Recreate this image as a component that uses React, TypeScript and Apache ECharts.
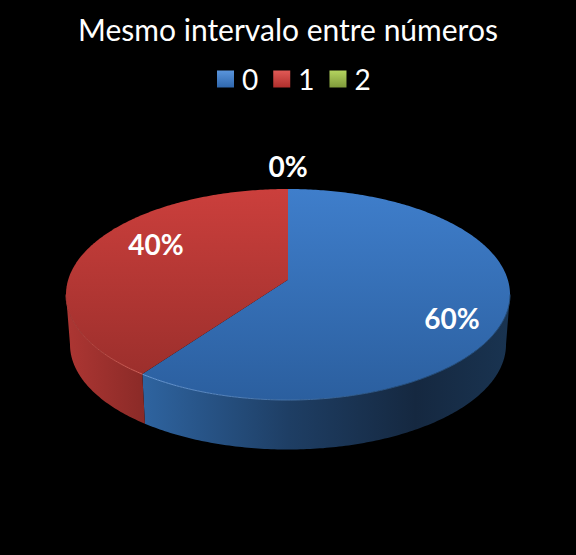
import React, { useEffect, useRef } from "react";
import * as echarts from "echarts";

const titleText = "Mesmo intervalo entre números";
const categories = ["0", "1", "2"];
const shares = [60, 40, 0];

const FONT = "Lato, 'Noto Sans', sans-serif";
const CX = 288, CY = 294.5, RX = 222, RY = 105.5;
const BCY = 344.5, BRX = 218, BRY = 105;
const K = -0.14; // perspective of the tilted disc
const total = shares.reduce((a, b) => a + b, 0);

const topStops = [
  [["#3f7ecb", "#2b5f9f"], 189, 400],
  [["#cb3f3c", "#9c2f2c"], 189, 375],
  [["#9bbb59", "#7f9a48"], 189, 300],
] as const;
const sideStops: [number, string][][] = [
  [[0, "#2e639f"], [0.4, "#1e3e64"], [0.75, "#152840"], [1, "#193350"]],
  [[0, "#ad3633"], [1, "#8a2a27"]],
  [[0, "#7f9a48"], [1, "#5c7034"]],
];
const sideRange = [[145, 506], [66, 146], [66, 146]];
const rimColors = ["#6a9bd8", "#d4645c", "#b5d070"];
const legendColors = [
  ["#5a95dc", "#2f67ad"],
  ["#e05a56", "#b02f2c"],
  ["#b4d45f", "#7f9a3a"],
];
const labelFactors = [[0.777, 0.73], [0.625, 1.54], [0, 1.218]];

function warp(deg: number) {
  const t = (deg * Math.PI) / 180;
  const u = Math.sin(t), v = -Math.cos(t);
  const d = 1 + K * v;
  return [(u * Math.sqrt(1 - K * K)) / d, (v + K) / d];
}
const topPt = (deg: number) => {
  const [x, y] = warp(deg);
  return [CX + RX * x, CY + RY * y];
};
const botPt = (deg: number) => {
  const [x, y] = warp(deg);
  return [CX + BRX * x, BCY + BRY * y];
};
const arc = (fn: (d: number) => number[], a: number, b: number) => {
  const n = Math.max(2, Math.ceil(Math.abs(b - a) / 0.75));
  const pts: number[][] = [];
  for (let i = 0; i <= n; i++) pts.push(fn(a + ((b - a) * i) / n));
  return pts;
};
const SIDE_MIN = (Math.acos(K) * 180) / Math.PI;
const SIDE_MAX = 360 - SIDE_MIN;

function makeRender(index: number) {
  return (_p: any, api: any) => {
    const value = api.value(0);
    const before = shares.slice(0, index).reduce((a, b) => a + b, 0);
    const a0 = (before / total) * 360;
    const a1 = a0 + (value / total) * 360;
    const mid = (a0 + a1) / 2;
    const rad = (mid * Math.PI) / 180;
    const [fx, fy] = labelFactors[index];
    const children: any[] = [];
    const s0 = Math.max(a0, SIDE_MIN);
    const s1 = Math.min(a1, SIDE_MAX);
    if (value > 0 && s1 > s0) {
      const [rx0, rx1] = sideRange[index];
      children.push({
        type: "polygon",
        shape: { points: [...arc(topPt, s0, s1), ...arc(botPt, s1, s0)] },
        style: {
          fill: new echarts.graphic.LinearGradient(
            rx0, 0, rx1, 0,
            sideStops[index].map(([offset, color]) => ({ offset, color })),
            true
          ),
        },
      });
    }
    if (value > 0) {
      const [cols, y0, y1] = topStops[index];
      children.push({
        type: "polygon",
        shape: { points: [[CX, CY + RY * K], ...arc(topPt, a0, a1)] },
        style: {
          fill: new echarts.graphic.LinearGradient(
            0, y0, 0, y1,
            [{ offset: 0, color: cols[0] }, { offset: 1, color: cols[1] }],
            true
          ),
        },
      });
      if (s1 > s0) {
        children.push({
          type: "polyline",
          shape: { points: arc(topPt, s0, s1) },
          style: {
            fill: "none",
            stroke: new echarts.graphic.LinearGradient(
              index === 0 ? 143 : 66, 0, index === 0 ? 400 : 143, 0,
              index === 0
                ? [{ offset: 0, color: rimColors[0] }, { offset: 1, color: "#26507f" }]
                : [{ offset: 0, color: "#a83a36" }, { offset: 1, color: rimColors[index] }],
              true
            ),
            lineWidth: 1,
          },
        });
      }
    }
    children.push({
      type: "text",
      z2: 10,
      style: {
        x: CX + RX * Math.sin(rad) * fx,
        y: CY - RY * Math.cos(rad) * fy,
        text: `${value}%`,
        fill: "#ffffff",
        font: `bold 28px ${FONT}`,
        align: "center",
        verticalAlign: "middle",
      },
    });
    return { type: "group", children };
  };
}

export default function App() {
  const ref = useRef<HTMLDivElement>(null);
  useEffect(() => {
    document.body.style.margin = "0";
    document.body.style.background = "#000";
    const chart = echarts.init(ref.current!, undefined, { renderer: "svg" });
    chart.setOption({
      animation: false,
      backgroundColor: "#000000",
      title: {
        text: titleText,
        left: "center",
        top: 9,
        textStyle: { color: "#ffffff", fontFamily: FONT, fontSize: 30, fontWeight: "normal" },
      },
      legend: {
        top: 65,
        left: 217,
        padding: 0,
        selectedMode: false,
        itemWidth: 17,
        itemHeight: 17,
        itemGap: 15,
        icon: "rect",
        textStyle: { color: "#ffffff", fontFamily: FONT, fontSize: 28, padding: [0, 0, 0, 3] },
        data: categories.map((name, i) => ({
          name,
          itemStyle: {
            color: new echarts.graphic.LinearGradient(0, 0, 0, 1, [
              { offset: 0, color: legendColors[i][0] },
              { offset: 1, color: legendColors[i][1] },
            ]),
          },
        })),
      },
      series: categories.map((name, i) => ({
        type: "custom",
        name,
        coordinateSystem: "none",
        data: [[shares[i]]],
        renderItem: makeRender(i),
        silent: true,
      })),
    });
    return () => chart.dispose();
  }, []);
  return <div ref={ref} style={{ width: 576, height: 555 }} />;
}
